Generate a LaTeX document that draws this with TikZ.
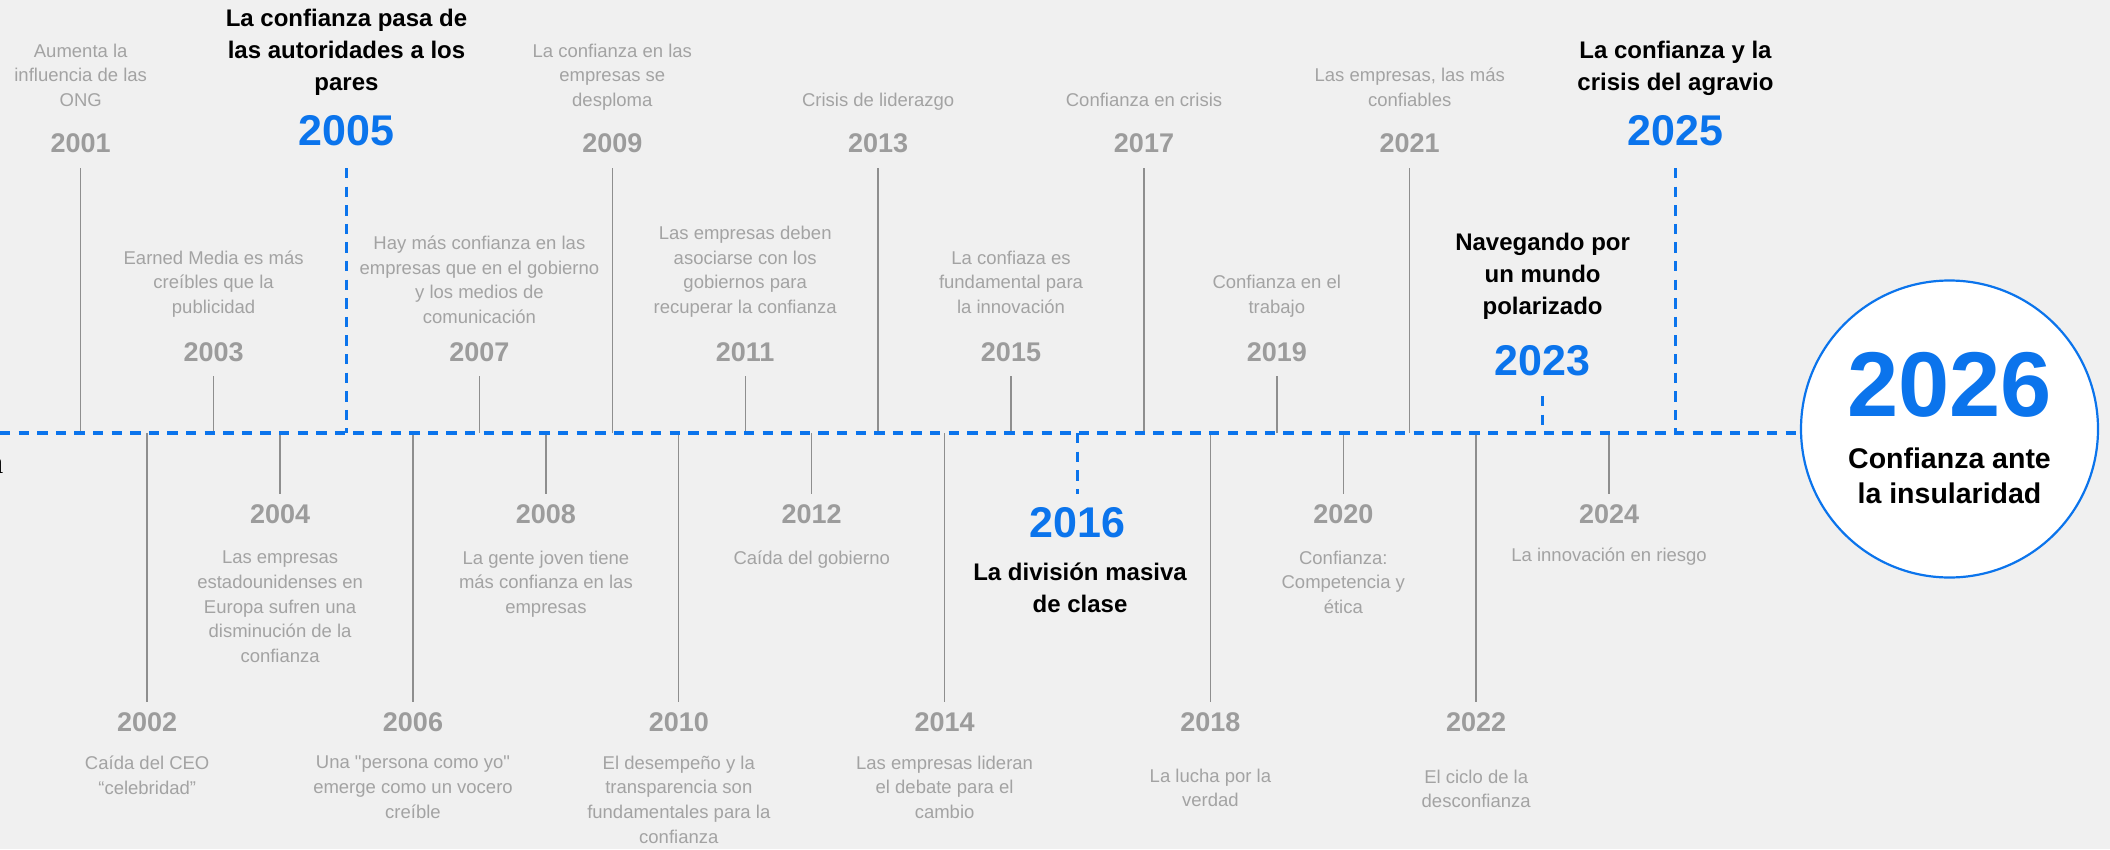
\documentclass[tikz,border=0pt]{standalone}
\usepackage{fontspec}
\setmainfont{Liberation Sans}
\newfontfamily\serifa{Liberation Serif}
\definecolor{bg}{HTML}{F0F0F0}
\definecolor{tlblue}{HTML}{0B74EC}
\definecolor{yeargray}{HTML}{9C9C9C}
\definecolor{descgray}{HTML}{A3A3A3}
\definecolor{tickgray}{HTML}{8E8E8E}
\newcommand\tlstrut{\rule[-0.25em]{0pt}{0.95em}}
\begin{document}
\begin{tikzpicture}[x=1pt,y=-1pt,
  tick/.style={draw=tickgray, line width=1.4pt},
  bdash/.style={draw=tlblue, line width=3.2pt, dash pattern=on 10.3pt off 8.3pt},
  desc/.style={font=\fontsize{18.5}{24.7}\selectfont, text=descgray, align=center, inner sep=0pt},
  yr/.style={font=\bfseries\fontsize{27}{30}\selectfont, text=yeargray, inner sep=0pt},
  hl/.style={font=\bfseries\fontsize{24}{32}\selectfont, text=black, align=center, inner sep=0pt},
  byr/.style={font=\bfseries\fontsize{43}{46}\selectfont, text=tlblue, inner sep=0pt}]
\fill[bg] (0,0) rectangle (2110,849);
\useasboundingbox (0,0) rectangle (2110,849);

% baseline coordinates for each year
\foreach \k in {1,...,25} \coordinate (b\k) at ({80.7+66.45*(\k-1)},433);
\coordinate (upL) at (0,168);
\coordinate (upS) at (0,376);
\coordinate (dnS) at (0,494);
\coordinate (dnL) at (0,702);
\coordinate (up23) at (0,396);
\coordinate (L0) at (0,433);

% gray ticks
\foreach \k in {1,9,13,17,21} \draw[tick] (b\k) -- (b\k |- upL);
\foreach \k in {3,7,11,15,19} \draw[tick] (b\k) -- (b\k |- upS);
\foreach \k in {4,8,12,20,24} \draw[tick] (b\k) -- (b\k |- dnS);
\foreach \k in {2,6,10,14,18,22} \draw[tick] (b\k) -- (b\k |- dnL);

% circle
\node[circle, draw=tlblue, line width=2.2pt, fill=white, minimum size=297pt, inner sep=0pt] (circ) at (1949.5,429) {};

% blue dashed lines
\draw[bdash] (L0) -- (L0 -| circ.west);
\draw[bdash] (b5 |- upL) -- (b5);
\draw[bdash] (b25 |- upL) -- (b25);
\draw[bdash] (b23 |- up23) -- (b23);
\draw[bdash] (b16) -- (b16 |- dnS);

% cut-off letter at left edge
\node[anchor=base east, font=\serifa\fontsize{32}{32}\selectfont, inner sep=0pt] (cut) at (3.5,473) {a};

% upper long
\node[yr] (y2001) at (80.7,146) {\tlstrut 2001};
\node[desc, anchor=south] (d2001) at (80.7,111.3) {\tlstrut Aumenta la\\influencia de las\\ONG\tlstrut};
\node[yr] (y2009) at (612.3,146) {\tlstrut 2009};
\node[desc, anchor=south] (d2009) at (612.3,111.3) {\tlstrut La confianza en las\\empresas se\\desploma\tlstrut};
\node[yr] (y2013) at (878.1,146) {\tlstrut 2013};
\node[desc, anchor=south] (d2013) at (878.1,111.3) {\tlstrut Crisis de liderazgo\tlstrut};
\node[yr] (y2017) at (1144.0,146) {\tlstrut 2017};
\node[desc, anchor=south] (d2017) at (1144.0,111.3) {\tlstrut Confianza en crisis\tlstrut};
\node[yr] (y2021) at (1409.7,146) {\tlstrut 2021};
\node[desc, anchor=south] (d2021) at (1409.7,111.3) {\tlstrut Las empresas, las más\\confiables\tlstrut};

% upper short
\node[yr] (y2003) at (213.6,355) {\tlstrut 2003};
\node[desc, anchor=south] (d2003) at (213.6,318.3) {\tlstrut Earned Media es más\\creíbles que la\\publicidad\tlstrut};
\node[yr] (y2007) at (479.4,355) {\tlstrut 2007};
\node[desc, anchor=south] (d2007) at (479.4,328.3) {\tlstrut Hay más confianza en las\\empresas que en el gobierno\\y los medios de\\comunicación\tlstrut};
\node[yr] (y2011) at (745.2,355) {\tlstrut 2011};
\node[desc, anchor=south] (d2011) at (745.2,318.3) {\tlstrut Las empresas deben\\asociarse con los\\gobiernos para\\recuperar la confianza\tlstrut};
\node[yr] (y2015) at (1011.0,355) {\tlstrut 2015};
\node[desc, anchor=south] (d2015) at (1011.0,318.3) {\tlstrut La confiaza es\\fundamental para\\la innovación\tlstrut};
\node[yr] (y2019) at (1276.8,355) {\tlstrut 2019};
\node[desc, anchor=south] (d2019) at (1276.8,318.3) {\tlstrut Confianza en el\\trabajo\tlstrut};

% lower short
\node[yr] (y2004) at (280.1,517) {\tlstrut 2004};
\node[desc, anchor=north] (d2004) at (280.1,550.6) {\tlstrut Las empresas\\estadounidenses en\\Europa sufren una\\disminución de la\\confianza\tlstrut};
\node[yr] (y2008) at (545.9,517) {\tlstrut 2008};
\node[desc, anchor=north] (d2008) at (545.9,550.6) {\tlstrut La gente joven tiene\\más confianza en las\\empresas\tlstrut};
\node[yr] (y2012) at (811.7,517) {\tlstrut 2012};
\node[desc, anchor=north] (d2012) at (811.7,550.6) {\tlstrut Caída del gobierno\tlstrut};
\node[yr] (y2020) at (1343.3,517) {\tlstrut 2020};
\node[desc, anchor=north] (d2020) at (1343.3,550.6) {\tlstrut Confianza:\\Competencia y\\ética\tlstrut};
\node[yr] (y2024) at (1609.1,517) {\tlstrut 2024};
\node[desc, anchor=north] (d2024) at (1609.1,547.6) {\tlstrut La innovación en riesgo\tlstrut};

% lower long
\node[yr] (y2002) at (147.2,725) {\tlstrut 2002};
\node[desc, anchor=north] (d2002) at (147.2,755.6) {\tlstrut Caída del CEO\\“celebridad”\tlstrut};
\node[yr] (y2006) at (413.0,725) {\tlstrut 2006};
\node[desc, anchor=north] (d2006) at (413.0,755.6) {\tlstrut Una \textquotedbl persona como yo\textquotedbl\\emerge como un vocero\\creíble\tlstrut};
\node[yr] (y2010) at (678.8,725) {\tlstrut 2010};
\node[desc, anchor=north] (d2010) at (678.8,755.6) {\tlstrut El desempeño y la\\transparencia son\\fundamentales para la\\confianza\tlstrut};
\node[yr] (y2014) at (944.6,725) {\tlstrut 2014};
\node[desc, anchor=north] (d2014) at (944.6,755.6) {\tlstrut Las empresas lideran\\el debate para el\\cambio\tlstrut};
\node[yr] (y2018) at (1210.4,725) {\tlstrut 2018};
\node[desc, anchor=north] (d2018) at (1210.4,768.6) {\tlstrut La lucha por la\\verdad\tlstrut};
\node[yr] (y2022) at (1476.2,725) {\tlstrut 2022};
\node[desc, anchor=north] (d2022) at (1476.2,769.6) {\tlstrut El ciclo de la\\desconfianza\tlstrut};

% highlighted years
\node[byr] (y2005) at (346.5,136) {\tlstrut 2005};
\node[hl, anchor=south] (h2005) at (346.5,97) {\tlstrut La confianza pasa de\\las autoridades a los\\pares\tlstrut};
\node[byr] (y2025) at (1675.5,136) {\tlstrut 2025};
\node[hl, anchor=south] (h2025) at (1675.5,96.5) {\tlstrut La confianza y la\\crisis del agravio\tlstrut};
\node[byr] (y2023) at (1542.6,366) {\tlstrut 2023};
\node[hl, anchor=south] (h2023) at (1542.6,320.5) {\tlstrut Navegando por\\un mundo\\polarizado\tlstrut};
\node[byr] (y2016) at (1077.5,528) {\tlstrut 2016};
\node[hl, anchor=north] (h2016) at (1080,562.5) {\tlstrut La división masiva\\de clase\tlstrut};

% circle contents
\node[font=\bfseries\fontsize{92}{92}\selectfont, text=tlblue, inner sep=0pt] (c2026) at (1949.5,396) {\tlstrut 2026};
\node[font=\bfseries\fontsize{28.5}{35}\selectfont, align=center, inner sep=0pt, anchor=north] (ctext) at (1949.5,448) {\tlstrut Confianza ante\\la insularidad\tlstrut};
\end{tikzpicture}
\end{document}
